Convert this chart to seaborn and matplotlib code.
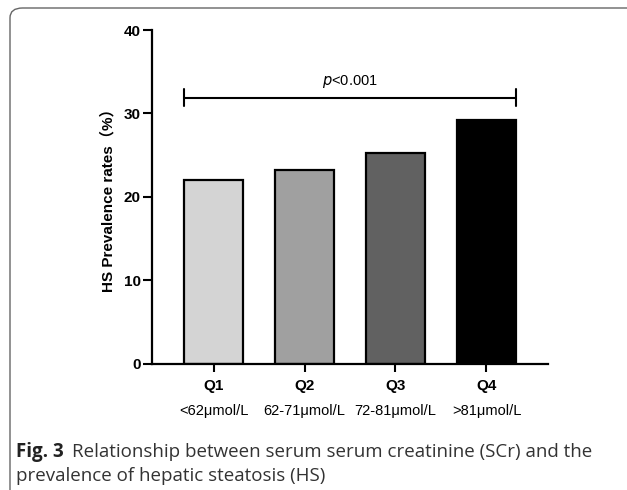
import matplotlib
matplotlib.use("Agg")
import matplotlib.pyplot as plt
import seaborn as sns
import pandas as pd
from matplotlib.patches import FancyBboxPatch

groups = ["Q1", "Q2", "Q3", "Q4"]
ranges = ["<62μmol/L", "62-71μmol/L", "72-81μmol/L", ">81μmol/L"]
prevalence = [22.0, 23.2, 25.2, 29.2]
bar_colors = ["#d4d4d4", "#a0a0a0", "#616161", "#000000"]
yticks = [0, 10, 20, 30, 40]
p_label = "$\\it{p}$<0.001"
bracket_y = 31.9
ylabel = "HS Prevalence rates（%）"

sns.set_theme(style="white")
plt.rcParams['font.family'] = ['Liberation Sans', 'Noto Sans CJK SC', 'DejaVu Sans']
plt.rcParams.update({"text.color": "black", "axes.labelcolor": "black",
                     "xtick.color": "black", "ytick.color": "black"})

fig = plt.figure(figsize=(6.27, 4.9), dpi=100)
ax = fig.add_axes([152/627, 1-363.5/490, 396/627, 333.5/490])

df = pd.DataFrame({"group": groups, "value": prevalence})
sns.barplot(data=df, x="group", y="value", hue="group", palette=bar_colors,
            width=0.65, edgecolor="black", linewidth=1.6, legend=False, ax=ax)

ax.set_ylim(0, 40)
ax.set_xlim(-0.676, 3.676)
ax.set_yticks(yticks)
ax.set_yticklabels([str(v) for v in yticks], fontsize=11, fontweight="bold")
ax.set_xticks(range(len(groups)))
ax.set_xticklabels(groups, fontsize=11, fontweight="bold")
ax.tick_params(axis="both", direction="out", length=6.5, width=1.5, color="black",
               labelcolor="black", bottom=True, left=True, pad=1.5)
ax.tick_params(axis="x", length=6, pad=5)
for s in ["top", "right"]:
    ax.spines[s].set_visible(False)
for s in ["left", "bottom"]:
    ax.spines[s].set_color("black")
    ax.spines[s].set_linewidth(1.6)
ax.set_xlabel("")
ax.set_ylabel(ylabel, fontsize=11, fontweight="bold", labelpad=6, color="black")

for i, r in enumerate(ranges):
    ax.annotate(r, xy=(i, 0), xycoords=("data", "axes fraction"),
                xytext=(0, -34.5), textcoords="offset points",
                ha="center", va="center", fontsize=10.5, color="black")

# significance bracket
x0 = 0 - 0.325
x1 = 3 + 0.325
ax.plot([x0, x1], [bracket_y, bracket_y], color="black", lw=1.5, clip_on=False)
ax.plot([x0, x0], [bracket_y - 1, bracket_y + 1], color="black", lw=1.5, clip_on=False)
ax.plot([x1, x1], [bracket_y - 1, bracket_y + 1], color="black", lw=1.5, clip_on=False)
ax.text((x0 + x1) / 2, bracket_y + 1.9, p_label, ha="center", va="center",
        fontsize=10.5, color="black")

# figure frame (rounded, open on right/bottom)
fig.add_artist(FancyBboxPatch((10/627, -0.2), 700/627, (490-8)/490 + 0.2,
                              boxstyle="round,pad=0,rounding_size=0.02",
                              transform=fig.transFigure, fill=False,
                              edgecolor="#666666", lw=1.0, clip_on=False))

# caption
fig.text(16/627, 1-452/490, "Fig. 3", fontsize=13.5, fontweight="bold",
         family="Open Sans", va="center", ha="left", color="#222222")
fig.text(72/627, 1-452/490, "Relationship between serum serum creatinine (SCr) and the",
         fontsize=13.5, family="Open Sans", va="center", ha="left", color="#333333")
fig.text(16/627, 1-476/490, "prevalence of hepatic steatosis (HS)",
         fontsize=13.5, family="Open Sans", va="center", ha="left", color="#333333")

fig.savefig("out.png", dpi=100)
